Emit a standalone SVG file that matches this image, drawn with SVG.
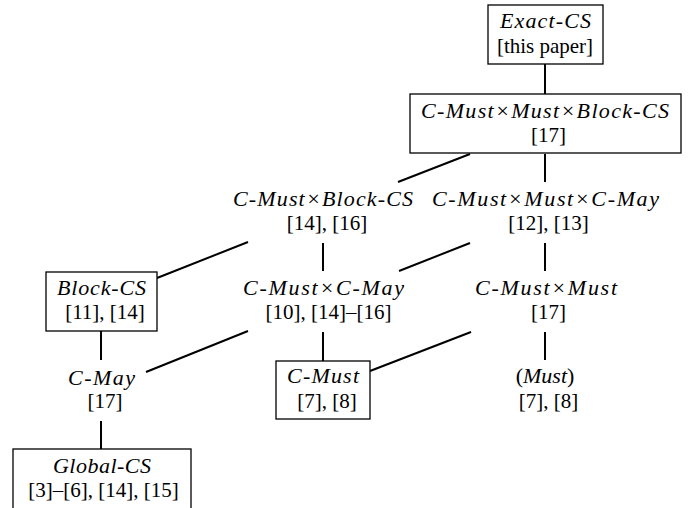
<svg xmlns="http://www.w3.org/2000/svg" width="696" height="508" viewBox="0 0 696 508">
<style>
.box{fill:#fff;stroke:#000;stroke-width:1.3}
.m{font-family:"Liberation Serif",serif;font-style:italic;font-size:22px;text-anchor:middle;fill:#000}
.r{font-family:"Liberation Serif",serif;font-size:21px;text-anchor:middle;fill:#000}
.u{font-style:normal}
#connectors line{stroke:#000;stroke-width:2}
</style>
<rect width="696" height="508" fill="#fff"/>
<g id="connectors">
<line x1="545" y1="64" x2="545" y2="94"/>
<line x1="470" y1="154" x2="398" y2="182"/>
<line x1="545" y1="154" x2="545" y2="182"/>
<line x1="248" y1="242" x2="157" y2="278"/>
<line x1="323" y1="243" x2="323" y2="271"/>
<line x1="470" y1="243" x2="399" y2="271"/>
<line x1="545" y1="243" x2="545" y2="271"/>
<line x1="101" y1="331" x2="101" y2="360"/>
<line x1="248" y1="331" x2="146" y2="372"/>
<line x1="323" y1="332" x2="323" y2="361"/>
<line x1="471" y1="332" x2="370" y2="371"/>
<line x1="545" y1="332" x2="545" y2="360"/>
<line x1="101" y1="421" x2="101" y2="449"/>
</g>
<g id="exact">
<rect class="box" x="488" y="5" width="115" height="59"/>
<text class="m" x="545.5" y="28" textLength="91">Exact-CS</text>
<text class="r" x="545" y="53">[this paper]</text>
</g>
<g id="cmust-must-block">
<rect class="box" x="410" y="94" width="271" height="59"/>
<text class="m" x="545" y="118" textLength="248">C-Must×Must×Block-CS</text>
<text class="r" x="548.5" y="142">[17]</text>
</g>
<g id="cmust-block">
<text class="m" x="323" y="206" textLength="180">C-Must×Block-CS</text>
<text class="r" x="327" y="230">[14], [16]</text>
</g>
<g id="cmust-must-cmay">
<text class="m" x="545.5" y="206" textLength="227">C-Must×Must×C-May</text>
<text class="r" x="548.5" y="230">[12], [13]</text>
</g>
<g id="block">
<rect class="box" x="46" y="272" width="111" height="59"/>
<text class="m" x="101.5" y="295" textLength="89">Block-CS</text>
<text class="r" x="105" y="319">[11], [14]</text>
</g>
<g id="cmust-cmay">
<text class="m" x="323.5" y="295" textLength="161">C-Must×C-May</text>
<text class="r" x="328.5" y="319">[10], [14]–[16]</text>
</g>
<g id="cmust-must">
<text class="m" x="546" y="295" textLength="142">C-Must×Must</text>
<text class="r" x="548.5" y="319">[17]</text>
</g>
<g id="cmay">
<text class="m" x="101.5" y="385" textLength="67">C-May</text>
<text class="r" x="105" y="408">[17]</text>
</g>
<g id="cmust">
<rect class="box" x="276" y="361" width="94" height="58"/>
<text class="m" x="323" y="383" textLength="72">C-Must</text>
<text class="r" x="327" y="408">[7], [8]</text>
</g>
<g id="must">
<text class="m" x="545" y="383"><tspan class="u">(</tspan>Must<tspan class="u">)</tspan></text>
<text class="r" x="548.5" y="408">[7], [8]</text>
</g>
<g id="global">
<rect class="box" x="13" y="449" width="178" height="62"/>
<text class="m" x="102" y="473" textLength="98">Global-CS</text>
<text class="r" x="103.5" y="497">[3]–[6], [14], [15]</text>
</g>
</svg>
